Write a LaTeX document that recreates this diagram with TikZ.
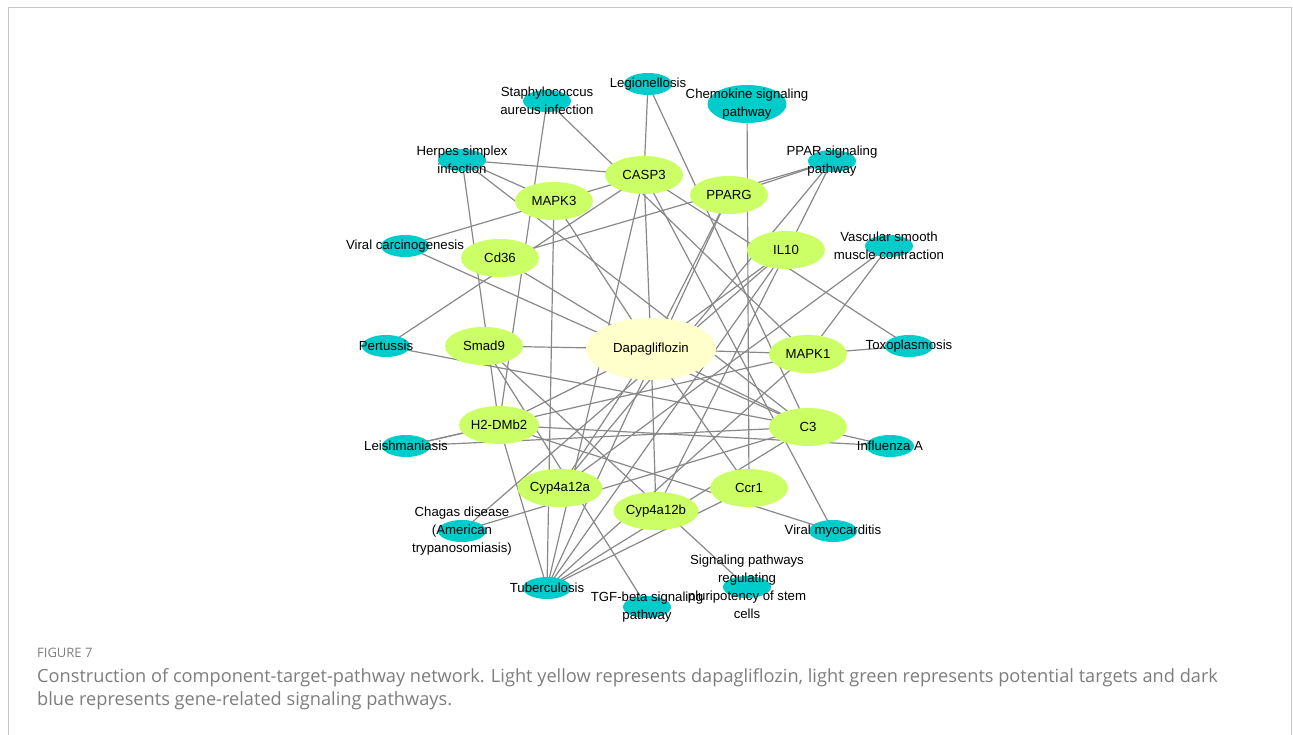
\documentclass[tikz,border=0pt]{standalone}
\usepackage{fontspec}
\setmainfont{Liberation Sans}
\newfontfamily\capfont{Open Sans}
\usetikzlibrary{shapes.geometric}

\definecolor{drugyellow}{RGB}{255,255,204}
\definecolor{targetgreen}{RGB}{204,255,102}
\definecolor{pathcyan}{RGB}{0,204,204}
\definecolor{linkgray}{RGB}{136,136,136}
\definecolor{framegray}{RGB}{200,200,200}
\definecolor{captiongray}{RGB}{125,125,125}

\pgfdeclarelayer{background}
\pgfsetlayers{background,main}

\begin{document}
\begin{tikzpicture}[x=1pt,y=-1pt,
    font=\fontsize{13.2}{18}\selectfont,
    drug/.style={ellipse, fill=drugyellow, minimum width=130pt, minimum height=62pt, inner sep=0pt},
    target/.style={ellipse, fill=targetgreen, minimum width=78pt, minimum height=38pt, inner sep=0pt},
    pathway/.style={ellipse, fill=pathcyan, minimum width=48pt, minimum height=22pt, inner sep=0pt},
    plabel/.style={align=center, inner sep=0pt},
    link/.style={draw=linkgray, line width=1.2pt},
    captxt/.style={anchor=base west, inner sep=0pt, text=captiongray, font=\capfont\fontsize{18.2}{21}\selectfont}
    ]
\useasboundingbox (0,0) rectangle (1293,735);
\draw[framegray, line width=1pt] (8,735) -- (8,8) -- (1291,8) -- (1291,735);

% drug and targets
\node[drug] (dapa) at (651,349) {Dapagliflozin};
\node[target] (casp3)  at (644,175) {CASP3};
\node[target] (pparg)  at (729,195) {PPARG};
\node[target] (mapk3)  at (554,201) {MAPK3};
\node[target] (cd36)   at (500,258) {Cd36};
\node[target] (il10)   at (786,250) {IL10};
\node[target] (smad9)  at (484,346) {Smad9};
\node[target] (mapk1)  at (808,354) {MAPK1};
\node[target] (h2dmb2) at (499,425) {H2-DMb2};
\node[target] (c3)     at (808,427) {C3};
\node[target] (cypa)   at (560,488) {Cyp4a12a};
\node[target] (cypb)   at (656,511) {Cyp4a12b};
\node[target] (ccr1)   at (749,488) {Ccr1};

% pathways
\node[pathway, label={[plabel]center:Legionellosis}] (legio) at (648,84) {};
\node[pathway, label={[plabel]center:Staphylococcus\\aureus infection}] (staph) at (547,101) {};
\node[pathway, minimum width=79pt, minimum height=38pt, label={[plabel]center:Chemokine signaling\\pathway}] (chemo) at (747,104) {};
\node[pathway, label={[plabel]center:Herpes simplex\\infection}] (herpes) at (462,160) {};
\node[pathway, label={[plabel]center:PPAR signaling\\pathway}] (ppar) at (832,161) {};
\node[pathway, label={[plabel]center:Viral carcinogenesis}] (vircarc) at (405,246) {};
\node[pathway, label={[plabel]center:Vascular smooth\\muscle contraction}] (vascular) at (889,246) {};
\node[pathway, label={[plabel]center:Pertussis}] (pertus) at (386,346) {};
\node[pathway, label={[plabel]center:Toxoplasmosis}] (toxo) at (909,346) {};
\node[pathway, label={[plabel]center:Leishmaniasis}] (leish) at (406,446) {};
\node[pathway, label={[plabel]center:Influenza A}] (flu) at (890,446) {};
\node[pathway, label={[plabel]center:Chagas disease\\(American\\trypanosomiasis)}] (chagas) at (462,531) {};
\node[pathway, label={[plabel]center:Viral myocarditis}] (myocard) at (833,531) {};
\node[pathway, label={[plabel]center:Tuberculosis}] (tuber) at (547,588) {};
\node[pathway, label={[plabel]center:Signaling pathways\\regulating\\pluripotency of stem\\cells}] (pluri) at (747,587) {};
\node[pathway, label={[plabel]center:TGF-beta signaling\\pathway}] (tgfb) at (647,607) {};

\begin{pgfonlayer}{background}
  \foreach \t in {casp3,pparg,mapk3,cd36,il10,smad9,mapk1,h2dmb2,c3,cypa,cypb,ccr1}
    \draw[link] (dapa.center) -- (\t.center);
  \foreach \p/\t in {legio/casp3, legio/c3, staph/h2dmb2, staph/mapk1, chemo/ccr1,
      herpes/casp3, herpes/mapk3, herpes/c3, herpes/h2dmb2,
      ppar/pparg, ppar/cd36, ppar/cypa, ppar/cypb,
      vircarc/casp3, vircarc/c3, vascular/mapk1, vascular/cypa,
      pertus/casp3, pertus/c3, toxo/mapk1, toxo/casp3,
      leish/h2dmb2, leish/c3, leish/mapk1, flu/c3, flu/h2dmb2,
      chagas/c3, chagas/il10, myocard/casp3, myocard/h2dmb2,
      tuber/h2dmb2, tuber/mapk3, tuber/casp3, tuber/pparg, tuber/il10,
      tuber/mapk1, tuber/c3, tuber/ccr1, pluri/smad9, tgfb/smad9}
    \draw[link] (\p.center) -- (\t.center);
\end{pgfonlayer}

% caption
\node[captxt, font=\capfont\fontsize{13}{15}\selectfont] (fignum) at (37,657) {FIGURE 7};
\node[captxt] (capa) at (37,682) {Construction of component-target-pathway network. Light yellow represents dapagliflozin, light green represents potential targets and dark};
\node[captxt] (capb) at (37,705) {blue represents gene-related signaling pathways.};
\end{tikzpicture}
\end{document}
